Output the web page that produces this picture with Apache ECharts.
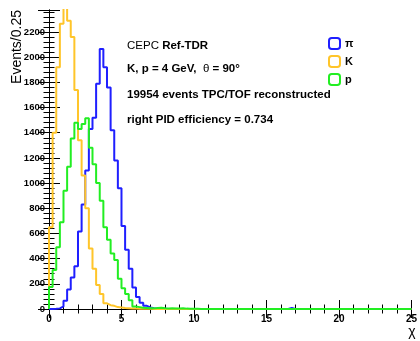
<!DOCTYPE html>
<html>
<head>
<meta charset="utf-8">
<script src="https://cdn.jsdelivr.net/npm/echarts@6/dist/echarts.min.js"></script>
<style>
html,body{margin:0;padding:0;background:#fff;}
#chart{width:420px;height:341px;}
</style>
</head>
<body>
<div id="chart"></div>
<script>
// Histogram: chi, bin width 0.25, range 0..25 (100 bins)
const binWidth = 0.25;
const xMin = 0, xMax = 25;
const yMax = 2375;
const xTicks = [0, 5, 10, 15, 20, 25];
const yTicks = [0, 200, 400, 600, 800, 1000, 1200, 1400, 1600, 1800, 2000, 2200];
const seriesNames = ['\u03c0', 'K', 'p'];
const seriesColors = ['#1f1fff', '#ffc52a', '#22ee22'];

// pi counts per bin
const piCounts = [
  0, 2, 5, 20, 65, 155, 250, 340, 615, 830,
  1100, 1430, 1520, 1790, 2065, 1920, 1760, 1420, 1180, 960,
  660, 470, 320, 170, 95, 50, 25, 12, 6, 3,
  2, 1, 0, 0, 0, 0, 0, 0, 0, 0,
  0, 0, 0, 0, 0, 0, 0, 0, 0, 0,
  0, 0, 0, 0, 0, 0, 0, 0, 0, 0,
  0, 0, 0, 0, 0, 0, 8, 0, 0, 0,
  0, 0, 0, 0, 0, 0, 0, 0, 0, 0,
  0, 0, 0, 0, 0, 0, 0, 0, 0, 0,
  0, 0, 0, 0, 0, 0, 0, 0, 0, 0
];
// K counts per bin
const kCounts = [
  650, 1400, 1920, 2265, 2400, 2290, 2160, 1740, 1340, 1060,
  800, 480, 320, 190, 120, 45, 30, 25, 15, 12,
  8, 6, 4, 3, 2, 2, 1, 1, 0, 0,
  0, 0, 0, 0, 2, 0, 0, 0, 0, 0,
  0, 0, 0, 0, 0, 0, 0, 0, 0, 0,
  0, 0, 0, 0, 0, 0, 0, 0, 0, 0,
  0, 0, 0, 0, 0, 0, 0, 0, 0, 0,
  0, 0, 0, 0, 0, 0, 0, 0, 0, 0,
  0, 0, 0, 0, 0, 0, 0, 0, 0, 0,
  0, 0, 0, 0, 0, 0, 0, 0, 0, 0
];
// p counts per bin
const pCounts = [
  175, 310, 490, 690, 940, 1130, 1355, 1480, 1430, 1470,
  1515, 1280, 1150, 1000, 860, 650, 550, 440, 390, 240,
  165, 120, 70, 20, 15, 10, 8, 6, 5, 8,
  10, 6, 4, 5, 3, 4, 6, 3, 2, 2,
  1, 0, 0, 0, 0, 0, 0, 0, 0, 0,
  0, 0, 0, 0, 0, 0, 0, 0, 0, 0,
  0, 0, 0, 0, 0, 0, 0, 0, 0, 0,
  0, 0, 0, 0, 0, 0, 0, 0, 0, 0,
  0, 0, 0, 0, 0, 0, 0, 0, 0, 0,
  0, 0, 0, 0, 0, 0, 0, 0, 0, 0
];

const annotations = [
  '{n|CEPC }{b|Ref-TDR}',
  '{b|K, p = 4 GeV,  }{n|\u03b8}{b| = 90\u00b0}',
  '{b|19954 events TPC/TOF reconstructed}',
  '{b|right PID efficiency = 0.734}'
];

const FONT = '"Liberation Sans", Arial, Helvetica, sans-serif';

function histPoints(counts) {
  const pts = [[xMin, 0]];
  for (let i = 0; i < counts.length; i++) pts.push([xMin + i * binWidth, counts[i]]);
  pts.push([xMax, counts[counts.length - 1]]);
  return pts;
}

const allCounts = [piCounts, kCounts, pCounts];
const chart = echarts.init(document.getElementById('chart'), null, {renderer: 'canvas'});

const axisLine = {show: true, lineStyle: {color: '#000', width: 1}};
function xAx(pos, showLabel) {
  return {
    type: 'value', position: pos, min: xMin, max: xMax, interval: 5,
    axisLine: axisLine,
    axisTick: {show: true, inside: true, length: 9, lineStyle: {color: '#000', width: 1}},
    minorTick: {show: true, splitNumber: 5, length: 4.5, lineStyle: {color: '#000', width: 1}},
    splitLine: {show: false},
    axisLabel: {show: showLabel, margin: 5, color: '#000', fontFamily: FONT, fontWeight: 'bold', fontSize: 10,
      formatter: v => (xTicks.indexOf(v) >= 0 ? String(v) : '')}
  };
}
function yAx(pos, showLabel) {
  return {
    type: 'value', position: pos, min: 0, max: yMax, interval: 200,
    axisLine: axisLine,
    axisTick: {show: true, inside: true, length: 11, lineStyle: {color: '#000', width: 1}},
    minorTick: {show: true, splitNumber: 5, length: 5.5, lineStyle: {color: '#000', width: 1}},
    splitLine: {show: false},
    axisLabel: {show: showLabel, margin: 4, color: '#000', fontFamily: FONT, fontWeight: 'bold', fontSize: 9.5,
      formatter: v => (yTicks.indexOf(v) >= 0 ? String(v) : '')}
  };
}

const textYs = [45.5, 69, 94.5, 119.5];

chart.setOption({
  animation: false,
  backgroundColor: '#fff',
  grid: {left: 49, right: 4, top: 10, bottom: 32, show: false},
  xAxis: [xAx('bottom', true), xAx('top', false)],
  yAxis: [yAx('left', true), yAx('right', false)],
  legend: {
    orient: 'vertical', left: 328, top: 37, padding: 0, itemWidth: 11, itemHeight: 11, itemGap: 5,
    icon: 'roundRect',
    textStyle: {color: '#000', fontFamily: FONT, fontWeight: 'bold', fontSize: 11},
    data: seriesNames.map((n, i) => ({
      name: n,
      itemStyle: {color: 'rgba(255,255,255,0)', borderColor: seriesColors[i], borderWidth: 2}
    }))
  },
  series: seriesNames.map((n, i) => ({
    name: n, type: 'line', step: 'end', xAxisIndex: 0, yAxisIndex: 0,
    data: histPoints(allCounts[i]), symbol: 'none', clip: true,
    lineStyle: {color: seriesColors[i], width: 2},
    itemStyle: {color: seriesColors[i]},
    z: 2 + i
  })),
  graphic: [
    {type: 'text', x: 10, y: 10, rotation: Math.PI / 2,
      style: {text: 'Events/0.25', fill: '#000', font: '14px ' + FONT, align: 'right', verticalAlign: 'top'}},
    {type: 'text', x: 412, y: 332,
      style: {text: '\u03c7', fill: '#000', font: '14px ' + FONT, align: 'center', verticalAlign: 'middle'}}
  ].concat(annotations.map((t, i) => ({
    type: 'text', x: 127, y: textYs[i],
    style: {
      text: t, verticalAlign: 'middle', align: 'left',
      rich: {
        n: {fontFamily: FONT, fontSize: 11.5, fontWeight: 'normal', fill: '#000'},
        b: {fontFamily: FONT, fontSize: 11.5, fontWeight: 'bold', fill: '#000'}
      }
    }
  })))
});
</script>
</body>
</html>
